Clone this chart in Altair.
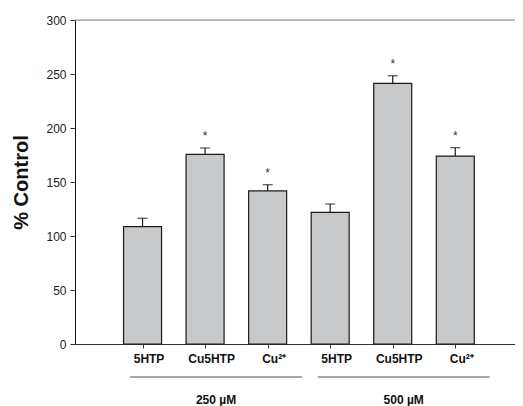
import altair as alt
import pandas as pd

# ---- data ----
treatments = ["5HTP", "Cu5HTP", "Cu²⁺", "5HTP", "Cu5HTP", "Cu²⁺"]
groups = ["250 µM", "250 µM", "250 µM", "500 µM", "500 µM", "500 µM"]
means = [108.6, 175.6, 141.7, 121.9, 241.4, 174.0]
errors = [7.8, 5.9, 5.8, 7.7, 7.0, 7.8]
significant = [False, True, True, False, True, True]
group_names = ["250 µM", "500 µM"]
y_ticks = [0, 50, 100, 150, 200, 250, 300]

positions = list(range(1, len(treatments) + 1))
df = pd.DataFrame({
    "pos": positions,
    "treatment": treatments,
    "group": groups,
    "mean": means,
    "err": errors,
    "sig": significant,
})
df["upper"] = df["mean"] + df["err"]

grp_rows = []
for g in group_names:
    p = [pos for pos, gg in zip(positions, groups) if gg == g]
    start, end = min(p) - 0.2, max(p) + 0.55
    grp_rows.append({"group": g, "start": start, "end": end, "mid": (start + end) / 2})
gdf = pd.DataFrame(grp_rows)

FONT = "Liberation Sans"
W, H = 440, 324

label_expr = "[" + ",".join(["''"] + [f"'{t}'" for t in treatments] + ["''"]) + "][datum.value]"

xscale = alt.Scale(domain=[0, 6.875], nice=False, zero=False)
yscale = alt.Scale(domain=[0, 300], nice=False)

base = alt.Chart(df)

bars = base.mark_bar(size=38, fill="#c8c9cb", stroke="#1a1a1a", strokeWidth=1.2).encode(
    x=alt.X("pos:Q", scale=xscale,
            axis=alt.Axis(values=positions, labelExpr=label_expr, title=None, grid=False,
                          domainColor="#333333", tickColor="#333333", tickSize=4,
                          labelFont=FONT, labelFontSize=12, labelFontWeight="bold",
                          labelColor="#111111", labelPadding=5, labelOffset=6)),
    y=alt.Y("mean:Q", scale=yscale,
            axis=alt.Axis(values=y_ticks, title="% Control", grid=False,
                          domainColor="#111111", tickColor="#333333", tickSize=5,
                          labelFont=FONT, labelFontSize=12, labelColor="#222222",
                          labelPadding=4, titleFont=FONT, titleFontSize=20,
                          titleFontWeight="bold", titleColor="#111111", titlePadding=14)),
)

err_line = base.mark_rule(color="#1a1a1a", strokeWidth=1.2).encode(
    x="pos:Q", y="mean:Q", y2="upper:Q")
err_cap = base.mark_tick(orient="horizontal", size=10, thickness=1.3, color="#1a1a1a").encode(
    x="pos:Q", y="upper:Q")

stars = base.transform_filter("datum.sig").mark_text(
    text="*", font=FONT, fontSize=12, color="#333333", baseline="middle", dy=-12
).encode(x="pos:Q", y="upper:Q")

top_line = alt.Chart(pd.DataFrame({"v": [300]})).mark_rule(color="#888888", strokeWidth=1).encode(
    y=alt.Y("v:Q", scale=yscale), x=alt.value(0), x2=alt.value(W))

gchart = alt.Chart(gdf)
grp_lines = gchart.mark_rule(color="#555555", strokeWidth=1).encode(
    x=alt.X("start:Q", scale=xscale), x2="end:Q", y=alt.value(H + 33))
grp_text = gchart.mark_text(font=FONT, fontSize=12, fontWeight="bold", color="#111111",
                            baseline="middle").encode(
    x=alt.X("mid:Q", scale=xscale), y=alt.value(H + 56), text="group:N")

chart = alt.layer(top_line, bars, err_line, err_cap, stars, grp_lines, grp_text).properties(
    width=W, height=H,
    autosize=alt.AutoSizeParams(type="none"),
    padding={"left": 67, "top": 12, "right": 0, "bottom": 62},
).configure_view(stroke=None).configure(background="white")

chart.save("out.html", embed_options={"renderer": "svg", "actions": False})
